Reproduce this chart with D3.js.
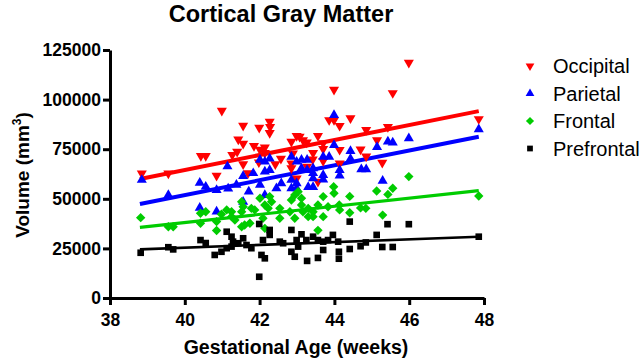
<!DOCTYPE html>
<html><head><meta charset="utf-8">
<script src="https://cdn.jsdelivr.net/npm/d3@7/dist/d3.min.js"></script>
<style>body{margin:0;background:#fff}svg{display:block}text{font-family:"Liberation Sans",Arial,sans-serif}</style>
</head><body><svg id="c" width="640" height="361"></svg>
<script>
const seriesNames = ["Occipital","Parietal","Frontal","Prefrontal"];
const seriesColors = ["#ff0000","#0000ff","#00cc00","#000000"];
const xTicks = [38,40,42,44,46,48];
const yTicks = [0,25000,50000,75000,100000,125000];

const occipital = [[38.85,62800],[39.56,62800],[40.43,71600],[40.56,71600],[40.99,94400],[40.85,61700],[41.56,86900],[41.43,79900],[41.56,77800],[41.27,72100],[41.40,73700],[41.56,67500],[41.85,76600],[41.99,85900],[42.27,88900],[42.28,86200],[42.27,83200],[42.01,74800],[42.14,75900],[42.14,73100],[41.98,68400],[42.42,67500],[42.57,70200],[42.85,78800],[42.99,81700],[42.85,67900],[42.85,65400],[41.69,62900],[43.07,81300],[43.16,79600],[43.26,78400],[43.56,81700],[43.70,78000],[43.70,75100],[43.43,73100],[43.42,69900],[43.70,69100],[43.27,66200],[43.86,89700],[43.99,89700],[44.14,86800],[44.43,90600],[43.99,105000],[45.56,103300],[45.99,118600],[44.85,84700],[45.43,86200],[44.14,74700],[44.70,74900],[45.14,79600],[44.85,71400],[45.28,68200],[44.14,67900],[47.86,90200],[42.99,60300],[43.56,58600],[42.89,72900]];
const parietal = [[38.85,59500],[39.56,51900],[40.40,58000],[40.56,56100],[40.85,54400],[40.40,45400],[40.85,43600],[41.14,66300],[41.16,55200],[41.38,57000],[41.56,61500],[41.56,48500],[41.83,62900],[41.71,53600],[42.01,57000],[42.01,69600],[42.14,68700],[42.27,70300],[42.27,64500],[42.14,63700],[42.45,55300],[42.58,57800],[42.85,71200],[42.99,68700],[42.85,59500],[42.99,57800],[42.85,55300],[42.99,55300],[42.14,51900],[43.12,69600],[43.27,69600],[43.70,71200],[43.86,71200],[43.99,77100],[43.99,92200],[44.43,74100],[44.43,70100],[45.14,76100],[45.43,78800],[45.56,78300],[45.99,80500],[47.86,85000],[44.14,64500],[44.14,61700],[44.72,64900],[44.85,64900],[43.43,65400],[43.12,65400],[43.27,64500],[43.70,62000],[43.43,62900],[45.29,59000],[43.30,55900],[43.43,55900],[43.70,59700],[43.43,60300]];
const frontal = [[38.82,40500],[39.56,35900],[39.69,35900],[40.42,42700],[40.56,43500],[40.42,37700],[40.85,38500],[40.85,34000],[40.98,42200],[41.12,44400],[41.25,43500],[41.25,41000],[41.34,39300],[41.52,43500],[41.56,46000],[41.52,48500],[41.78,45200],[41.87,44400],[42.01,50300],[42.14,46900],[42.23,45200],[42.27,51100],[42.32,48500],[41.60,36800],[41.74,37700],[41.52,35900],[42.14,35100],[42.54,45200],[42.54,40200],[42.85,49400],[42.94,51900],[43.03,53600],[42.81,43500],[42.94,40200],[42.09,40200],[43.12,50300],[43.12,46900],[43.16,43500],[43.30,45200],[43.30,41000],[43.43,41000],[43.43,43500],[43.56,46900],[43.70,51100],[43.70,41000],[43.98,56100],[43.99,52800],[43.83,46000],[44.13,46900],[44.14,44400],[44.41,51200],[44.41,43000],[44.70,45400],[44.84,45200],[45.13,53900],[45.29,41800],[45.43,52200],[45.56,55300],[45.99,61200],[47.86,51400],[43.56,34100]];
const prefrontal = [[38.82,22800],[39.56,25600],[39.69,24500],[40.42,29200],[40.56,27700],[40.80,21700],[40.98,23300],[41.12,33400],[41.25,30900],[41.29,28400],[41.43,27600],[41.12,25100],[41.25,25900],[41.56,30100],[41.65,26700],[41.78,25100],[41.99,37300],[41.99,10700],[42.05,21700],[42.14,20000],[42.09,29200],[42.27,31800],[42.27,34300],[42.54,28400],[42.63,27600],[42.85,34300],[42.85,23300],[42.94,20800],[42.99,29200],[43.03,25900],[43.12,32100],[43.25,29200],[43.43,30900],[43.56,29200],[43.70,28400],[43.83,29200],[43.96,31800],[44.10,28400],[43.70,24200],[43.56,20200],[43.27,18700],[44.12,23300],[44.12,19800],[44.41,24700],[44.41,38500],[44.70,26100],[44.84,28000],[45.13,31800],[45.28,25700],[45.56,25700],[45.42,37200],[45.99,37200],[47.86,30900]];
// fitted regression lines: [x0, y0, x1, y1]
const fitLines = [[38.8,60000,47.86,94200],[38.8,47400,47.86,81300],[38.8,35600,47.86,54100],[38.8,24500,47.86,30900]];

const allSeries = [occipital, parietal, frontal, prefrontal];
const svg = d3.select("#c");
const x = d3.scaleLinear().domain([38,48]).range([110,484]);
const y = d3.scaleLinear().domain([0,125000]).range([298,50]);

const lineW = [4,4,3.2,2.6];
const symbolGens = [
  {type:d3.symbolTriangle, size:44, rot:180},
  {type:d3.symbolTriangle, size:44, rot:0},
  {type:d3.symbolSquare, size:44, rot:45},
  {type:d3.symbolSquare, size:44, rot:0}
];

// axes
const xAxis = svg.append("g").attr("transform","translate(0,298)")
  .call(d3.axisBottom(x).tickValues(xTicks).tickFormat(d3.format("d")).tickSize(7).tickSizeOuter(0));
const yAxis = svg.append("g").attr("transform","translate(110,0)")
  .call(d3.axisLeft(y).tickValues(yTicks).tickFormat(d3.format("d")).tickSize(7).tickSizeOuter(0));
[xAxis,yAxis].forEach(g=>{
  g.select(".domain").attr("stroke","#000").attr("stroke-width",3);
  g.selectAll(".tick line").attr("stroke","#000").attr("stroke-width",3);
  g.selectAll(".tick text").attr("fill","#000").attr("font-weight","bold")
    .attr("font-family","'Liberation Sans',Arial,sans-serif");
});
xAxis.selectAll(".tick text").attr("font-size",17.5).attr("dy","0.71em").attr("y",16);
yAxis.selectAll(".tick text").attr("font-size",17.5).attr("x",-9);

// regression lines
allSeries.forEach((s,i)=>{
  const f = fitLines[i];
  svg.append("line").attr("x1",x(f[0])).attr("y1",y(f[1])).attr("x2",x(f[2])).attr("y2",y(f[3]))
    .attr("stroke",seriesColors[i]).attr("stroke-width",lineW[i]);
});

// points
allSeries.forEach((s,i)=>{
  const sg = symbolGens[i];
  svg.append("g").selectAll("path").data(s).join("path")
    .attr("d", d3.symbol().type(sg.type).size(sg.size))
    .attr("transform", d=>`translate(${x(d[0])},${y(d[1])}) rotate(${sg.rot})`)
    .attr("fill", seriesColors[i]);
});

// title & axis titles
svg.append("text").attr("x",281).attr("y",22).attr("text-anchor","middle")
  .attr("font-size",23.5).attr("font-weight","bold").text("Cortical Gray Matter");
svg.append("text").attr("x",296).attr("y",354).attr("text-anchor","middle")
  .attr("font-size",19.5).attr("font-weight","bold").text("Gestational Age (weeks)");
const yt = svg.append("text").attr("transform","translate(29,175) rotate(-90)").attr("text-anchor","middle")
  .attr("font-size",19).attr("font-weight","bold");
yt.append("tspan").text("Volume (mm");
yt.append("tspan").attr("font-size",12).attr("dy",-8).text("3");
yt.append("tspan").attr("dy",8).text(")");

// legend
const legY = [66,93.5,121,148.5];
seriesNames.forEach((n,i)=>{
  const sg = symbolGens[i];
  svg.append("path").attr("d", d3.symbol().type(sg.type).size(sg.size*0.75))
    .attr("transform",`translate(530,${legY[i]}) rotate(${sg.rot})`).attr("fill",seriesColors[i]);
  svg.append("text").attr("x",553).attr("y",legY[i]).attr("dy","0.35em")
    .attr("font-size",20).text(n);
});
</script></body></html>
